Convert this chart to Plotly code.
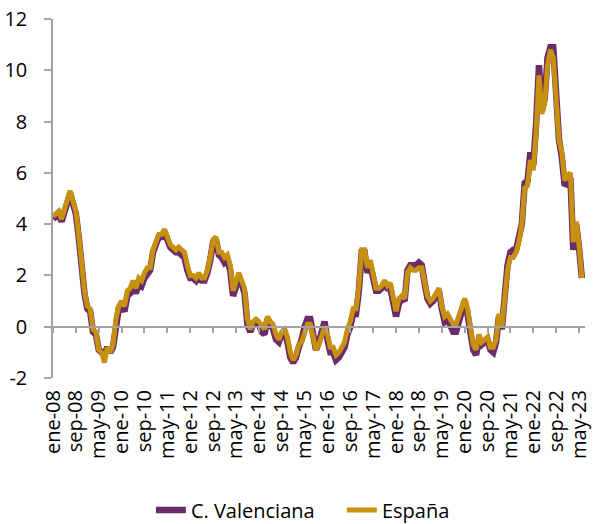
import plotly.graph_objects as go

# Monthly year-on-year CPI (%), ene-08 .. jun-23
espana = [
    4.3, 4.4, 4.5, 4.2, 4.6, 5.0, 5.3, 4.9, 4.5, 3.6, 2.4, 1.4,      # 2008
    0.8, 0.7, -0.1, -0.2, -0.9, -1.0, -1.4, -0.8, -1.0, -0.7, 0.3, 0.8,  # 2009
    1.0, 0.8, 1.4, 1.5, 1.8, 1.5, 1.9, 1.8, 2.1, 2.3, 2.3, 3.0,      # 2010
    3.3, 3.6, 3.6, 3.8, 3.5, 3.2, 3.1, 3.0, 3.1, 3.0, 2.9, 2.4,      # 2011
    2.0, 2.0, 1.9, 2.1, 1.9, 1.9, 2.2, 2.7, 3.4, 3.5, 2.9, 2.9,      # 2012
    2.7, 2.8, 2.4, 1.4, 1.7, 2.1, 1.8, 1.5, 0.3, -0.1, 0.2, 0.3,     # 2013
    0.2, 0.0, -0.1, 0.4, 0.2, 0.1, -0.3, -0.5, -0.2, -0.1, -0.4, -1.0,   # 2014
    -1.3, -1.1, -0.7, -0.6, -0.2, 0.1, 0.1, -0.4, -0.9, -0.7, -0.3, 0.0,  # 2015
    -0.3, -0.8, -0.8, -1.1, -1.0, -0.8, -0.6, -0.1, 0.2, 0.7, 0.7, 1.6,  # 2016
    3.0, 3.0, 2.3, 2.6, 1.9, 1.5, 1.5, 1.6, 1.8, 1.6, 1.7, 1.1,      # 2017
    0.6, 1.1, 1.2, 1.1, 2.1, 2.3, 2.2, 2.2, 2.3, 2.3, 1.7, 1.2,      # 2018
    1.0, 1.1, 1.3, 1.5, 0.8, 0.4, 0.5, 0.3, 0.1, 0.1, 0.4, 0.8,      # 2019
    1.1, 0.7, 0.0, -0.7, -0.9, -0.3, -0.6, -0.5, -0.4, -0.8, -0.8, -0.5,  # 2020
    0.5, 0.0, 1.3, 2.2, 2.7, 2.7, 2.9, 3.3, 4.0, 5.4, 5.5, 6.5,      # 2021
    6.1, 7.6, 9.8, 8.3, 8.7, 10.2, 10.8, 10.5, 8.9, 7.3, 6.8, 5.7,   # 2022
    5.9, 6.0, 3.3, 4.1, 3.2, 1.9,                                    # 2023
]

c_valenciana = [
    4.2, 4.3, 4.4, 4.1, 4.5, 4.9, 5.2, 4.8, 4.4, 3.5, 2.3, 1.3,      # 2008
    0.7, 0.6, -0.2, -0.3, -0.9, -1.0, -1.1, -0.8, -1.0, -0.8, 0.2, 0.7,  # 2009
    0.8, 0.6, 1.2, 1.3, 1.6, 1.3, 1.7, 1.6, 1.9, 2.1, 2.2, 2.9,      # 2010
    3.2, 3.5, 3.5, 3.7, 3.4, 3.1, 3.0, 2.9, 2.9, 2.8, 2.7, 2.2,      # 2011
    1.9, 1.9, 1.8, 2.0, 1.8, 1.8, 2.1, 2.6, 3.3, 3.4, 2.8, 2.7,      # 2012
    2.5, 2.6, 2.2, 1.2, 1.5, 1.9, 1.7, 1.3, 0.1, -0.2, 0.1, 0.2,     # 2013
    0.1, -0.2, -0.3, 0.3, 0.1, -0.1, -0.5, -0.6, -0.3, -0.2, -0.6, -1.2,  # 2014
    -1.4, -1.2, -0.8, -0.5, 0.0, 0.3, 0.3, -0.4, -0.9, -0.6, -0.2, 0.2,  # 2015
    -0.5, -1.0, -1.0, -1.3, -1.2, -1.0, -0.8, -0.3, 0.0, 0.5, 0.5, 1.4,  # 2016
    2.9, 2.9, 2.1, 2.4, 1.8, 1.4, 1.4, 1.5, 1.7, 1.5, 1.5, 0.9,      # 2017
    0.4, 0.9, 1.1, 1.0, 2.2, 2.4, 2.4, 2.4, 2.5, 2.4, 1.7, 1.1,      # 2018
    0.9, 1.0, 1.2, 1.4, 0.7, 0.2, 0.3, 0.1, -0.2, -0.2, 0.2, 0.6,    # 2019
    1.0, 0.5, -0.2, -0.9, -1.1, -0.5, -0.7, -0.6, -0.5, -0.9, -1.0, -0.6,  # 2020
    0.4, -0.1, 1.3, 2.4, 2.9, 3.0, 3.0, 3.4, 4.0, 5.6, 5.7, 6.8,     # 2021
    6.3, 7.9, 10.2, 8.4, 8.9, 10.5, 10.9, 10.9, 9.0, 7.3, 6.6, 5.5,  # 2022
    5.6, 5.8, 3.0, 4.0, 3.1, 1.9,                                    # 2023
]

tick_labels = [
    "ene-08", "sep-08", "may-09", "ene-10", "sep-10", "may-11", "ene-12", "sep-12",
    "may-13", "ene-14", "sep-14", "may-15", "ene-16", "sep-16", "may-17", "ene-18",
    "sep-18", "may-19", "ene-20", "sep-20", "may-21", "ene-22", "sep-22", "may-23",
]
tick_step = 8  # months between labelled ticks

y_tick_vals = [-2, 0, 2, 4, 6, 8, 10, 12]
y_tick_labels = ["-2", "0", "2", "4", "6", "8", "10", "12"]

month_idx = list(range(len(espana)))
tick_vals = [i * tick_step for i in range(len(tick_labels))]

PURPLE = "#6A2C6A"
GOLD = "#C8900F"
AXIS = "#A3A3A3"
FONT = "Open Sans"

fig = go.Figure()
fig.add_trace(go.Scatter(x=month_idx, y=c_valenciana, mode="lines", name="C. Valenciana",
                         line=dict(color=PURPLE, width=6.5)))
fig.add_trace(go.Scatter(x=month_idx, y=espana, mode="lines", name="España",
                         line=dict(color=GOLD, width=5)))
# helper (empty) trace so the zero-crossing axis is drawn
fig.add_trace(go.Scatter(x=[None], y=[None], xaxis="x2", showlegend=False, hoverinfo="skip"))

xr = [0, 186.1]
fig.update_layout(
    width=594, height=524,
    margin=dict(l=53, r=9, t=19, b=146, autoexpand=False),
    paper_bgcolor="white", plot_bgcolor="white",
    font=dict(family=FONT, size=20, color="#000000"),
    showlegend=True,
    legend=dict(orientation="h", x=0.184, xanchor="left", y=-0.3677, yanchor="middle",
                font=dict(size=20), tracegroupgap=0, entrywidth=146),
    xaxis=dict(range=xr, tickmode="array", tickvals=tick_vals, ticktext=tick_labels,
               tickangle=-90, ticks="", showline=False, showgrid=False, zeroline=False,
               ticklabelstandoff=7),
    xaxis2=dict(range=xr, overlaying="x", anchor="free", position=2 / 14,
                tickmode="array", tickvals=tick_vals, showticklabels=False,
                ticks="outside", ticklen=6, tickwidth=1.5, tickcolor=AXIS,
                showline=True, linecolor=AXIS, linewidth=1.5, showgrid=False, zeroline=False),
    yaxis=dict(range=[-2, 12], tickmode="array", tickvals=y_tick_vals, ticktext=y_tick_labels,
               ticks="outside", ticklen=7, tickwidth=1.5,
               tickcolor=AXIS, showline=True, linecolor=AXIS, linewidth=1.5,
               showgrid=False, zeroline=False, ticklabelstandoff=13),
)

fig.write_html("out.html", config={"displayModeBar": False},
               post_script="document.body.style.margin='0';document.body.style.overflow='hidden';")
